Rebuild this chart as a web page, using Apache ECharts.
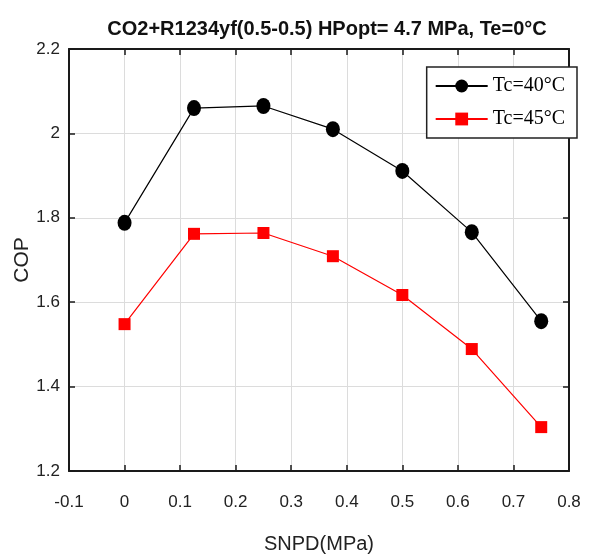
<!DOCTYPE html>
<html><head><meta charset="utf-8">
<script src="https://cdn.jsdelivr.net/npm/echarts@6/dist/echarts.min.js"></script>
<style>html,body{margin:0;padding:0;background:#fff}#c{width:594px;height:557px}</style>
</head><body><div id="c"></div>
<script>
const snpd = [0, 0.125, 0.25, 0.375, 0.5, 0.625, 0.75];
const copTc40 = [1.788, 2.060, 2.065, 2.010, 1.911, 1.766, 1.555];
const copTc45 = [1.548, 1.762, 1.764, 1.709, 1.617, 1.489, 1.304];
const seriesNames = ['Tc=40°C', 'Tc=45°C'];
const titleText = 'CO2+R1234yf(0.5-0.5) HPopt= 4.7 MPa, Te=0°C';

const SANS = '"Liberation Sans", Arial, sans-serif';
const chart = echarts.init(document.getElementById('c'));
const fmt = v => String(Math.round(v * 10) / 10);
const frameAxis = () => ({
  axisLine: {show: true, onZero: false, lineStyle: {color: '#1a1a1a', width: 2}},
  axisTick: {show: true, inside: true, length: 6, lineStyle: {color: '#1a1a1a', width: 1.5}},
  splitLine: {show: false}
});
chart.setOption({
  animation: false,
  title: {text: titleText, left: 322, textAlign: 'center', top: 14,
    textStyle: {fontFamily: SANS, fontWeight: 'bold', fontSize: 20, color: '#111'}},
  grid: {left: 69, right: 25, top: 49, bottom: 86, outerBoundsMode: 'none', containLabel: false},
  legend: {
    right: 17, top: 67, orient: 'vertical', backgroundColor: '#fff',
    borderColor: '#222', borderWidth: 1.5, padding: [9, 12, 9, 8], itemGap: 13,
    itemWidth: 52, itemHeight: 16,
    textStyle: {fontFamily: '"Liberation Serif", serif', fontSize: 20, color: '#000'},
    data: seriesNames
  },
  xAxis: [
    Object.assign({type: 'value', min: -0.1, max: 0.8, interval: 0.1,
      name: 'SNPD(MPa)', nameLocation: 'middle', nameGap: 63, nameMoveOverlap: false,
      nameTextStyle: {fontFamily: SANS, fontSize: 20, color: '#222'},
      axisLabel: {formatter: fmt, fontFamily: SANS, fontSize: 17, color: '#222', margin: 23}},
      frameAxis(), {splitLine: {show: true, lineStyle: {color: '#dcdcdc', width: 1}}}),
    Object.assign({type: 'value', position: 'top', min: -0.1, max: 0.8, interval: 0.1,
      axisLabel: {show: false}}, frameAxis())
  ],
  yAxis: [
    Object.assign({type: 'value', min: 1.2, max: 2.2, interval: 0.2,
      name: 'COP', nameLocation: 'middle', nameGap: 36, nameMoveOverlap: false,
      nameTextStyle: {fontFamily: SANS, fontSize: 21, color: '#222'},
      axisLabel: {formatter: fmt, fontFamily: SANS, fontSize: 17, color: '#222', margin: 9}},
      frameAxis(), {splitLine: {show: true, lineStyle: {color: '#dcdcdc', width: 1}}}),
    Object.assign({type: 'value', position: 'right', min: 1.2, max: 2.2, interval: 0.2,
      axisLabel: {show: false}}, frameAxis())
  ],
  series: [
    {name: seriesNames[0], type: 'line', data: snpd.map((x, i) => [x, copTc40[i]]),
      symbol: 'circle', symbolSize: [14, 16], itemStyle: {color: '#000'},
      lineStyle: {color: '#000', width: 1.2}},
    {name: seriesNames[1], type: 'line', data: snpd.map((x, i) => [x, copTc45[i]]),
      symbol: 'rect', symbolSize: 12, itemStyle: {color: '#ff0000'},
      lineStyle: {color: '#ff0000', width: 1.2}}
  ]
});
</script></body></html>
